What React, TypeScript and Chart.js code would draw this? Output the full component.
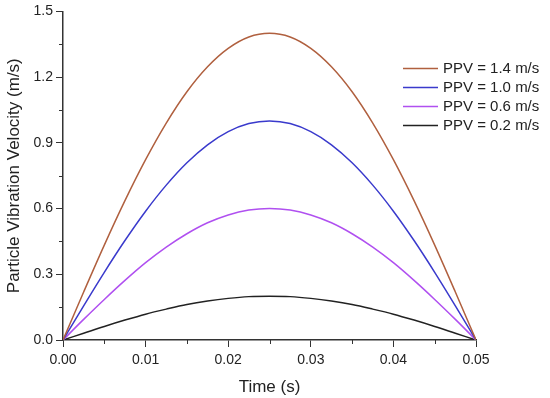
import React, { useEffect, useRef } from "react";
import { Chart, registerables } from "chart.js";

Chart.register(...registerables);

const times = [
  0, 0.0025, 0.005, 0.0075, 0.01, 0.0125, 0.015, 0.0175, 0.02, 0.0225, 0.025,
  0.0275, 0.03, 0.0325, 0.035, 0.0375, 0.04, 0.0425, 0.045, 0.0475, 0.05,
];
const ppv14 = [0, 0.219, 0.433, 0.636, 0.823, 0.99, 1.133, 1.247, 1.331, 1.383, 1.4, 1.383, 1.331, 1.247, 1.133, 0.99, 0.823, 0.636, 0.433, 0.219, 0];
const ppv10 = [0, 0.156, 0.309, 0.454, 0.588, 0.707, 0.809, 0.891, 0.951, 0.988, 1.0, 0.988, 0.951, 0.891, 0.809, 0.707, 0.588, 0.454, 0.309, 0.156, 0];
const ppv06 = [0, 0.094, 0.185, 0.272, 0.353, 0.424, 0.485, 0.535, 0.571, 0.593, 0.6, 0.593, 0.571, 0.535, 0.485, 0.424, 0.353, 0.272, 0.185, 0.094, 0];
const ppv02 = [0, 0.031, 0.062, 0.091, 0.118, 0.141, 0.162, 0.178, 0.19, 0.198, 0.2, 0.198, 0.19, 0.178, 0.162, 0.141, 0.118, 0.091, 0.062, 0.031, 0];

const seriesLabels = ["PPV = 1.4 m/s", "PPV = 1.0 m/s", "PPV = 0.6 m/s", "PPV = 0.2 m/s"];
const seriesValues = [ppv14, ppv10, ppv06, ppv02];
const seriesColors = ["#b0603f", "#3a3acc", "#b050f0", "#222222"];

const xTicks = [0, 0.01, 0.02, 0.03, 0.04, 0.05];
const yTicks = [0, 0.3, 0.6, 0.9, 1.2, 1.5];

const FONT = "'Liberation Sans', Arial, sans-serif";
const AXIS_COLOR = "#333333";

const minorTicksPlugin = {
  id: "minorTicks",
  afterDraw(chart: any) {
    const ctx = chart.ctx;
    const xs = chart.scales.x;
    const ys = chart.scales.y;
    ctx.save();
    ctx.strokeStyle = AXIS_COLOR;
    ctx.lineWidth = 1;
    ctx.beginPath();
    for (let i = 0; i < xTicks.length - 1; i++) {
      const v = (xTicks[i] + xTicks[i + 1]) / 2;
      const px = Math.round(xs.getPixelForValue(v)) + 0.5;
      ctx.moveTo(px, ys.bottom);
      ctx.lineTo(px, ys.bottom + 4);
    }
    for (let i = 0; i < yTicks.length - 1; i++) {
      const v = (yTicks[i] + yTicks[i + 1]) / 2;
      const py = Math.round(ys.getPixelForValue(v)) + 0.5;
      ctx.moveTo(xs.left, py);
      ctx.lineTo(xs.left - 4, py);
    }
    ctx.stroke();
    ctx.restore();
  },
};

const legendPlugin = {
  id: "customLegend",
  afterDraw(chart: any) {
    const ctx = chart.ctx;
    ctx.save();
    ctx.font = `15px ${FONT}`;
    ctx.textBaseline = "middle";
    ctx.textAlign = "left";
    chart.data.datasets.forEach((ds: any, i: number) => {
      const y = 68 + i * 19;
      ctx.strokeStyle = ds.borderColor;
      ctx.lineWidth = 1.5;
      ctx.beginPath();
      ctx.moveTo(403, y + 0.5);
      ctx.lineTo(438, y + 0.5);
      ctx.stroke();
      ctx.fillStyle = "#222";
      ctx.fillText(ds.label, 443, y + 1);
    });
    ctx.restore();
  },
};

export default function App() {
  const ref = useRef<HTMLCanvasElement | null>(null);
  useEffect(() => {
    document.body.style.margin = "0";
    if (!ref.current) return;
    const chart = new Chart(ref.current, {
      type: "line",
      data: {
        datasets: seriesLabels.map((label, i) => ({
          label,
          data: times.map((t, k) => ({ x: t, y: seriesValues[i][k] })),
          borderColor: seriesColors[i],
          backgroundColor: seriesColors[i],
          borderWidth: 1.5,
          pointRadius: 0,
          cubicInterpolationMode: "monotone",
          fill: false,
        })),
      },
      options: {
        responsive: false,
        animation: false,
        maintainAspectRatio: false,
        layout: { padding: { top: 10, right: 74, left: 0, bottom: 0 } },
        plugins: { legend: { display: false }, tooltip: { enabled: false } },
        scales: {
          x: {
            type: "linear",
            min: 0,
            max: 0.05,
            afterFit: (s: any) => { s.height = 58; },
            afterBuildTicks: (s: any) => { s.ticks = xTicks.map((v) => ({ value: v })); },
            border: { color: AXIS_COLOR, width: 1.5 },
            grid: { drawOnChartArea: false, tickLength: 7, color: AXIS_COLOR, tickColor: AXIS_COLOR },
            ticks: {
              color: "#222",
              font: { family: FONT, size: 14 },
              padding: 5,
              maxRotation: 0,
              callback: (v: any) => Number(v).toFixed(2),
            },
            title: {
              display: true,
              text: "Time (s)",
              color: "#222",
              font: { family: FONT, size: 17 },
              padding: { top: 3, bottom: 0 },
            },
          },
          y: {
            type: "linear",
            min: 0,
            max: 1.5,
            afterFit: (s: any) => { s.width = 63; },
            afterBuildTicks: (s: any) => { s.ticks = yTicks.map((v) => ({ value: v })); },
            border: { color: AXIS_COLOR, width: 1.5 },
            grid: { drawOnChartArea: false, tickLength: 7, color: AXIS_COLOR, tickColor: AXIS_COLOR },
            ticks: {
              color: "#222",
              font: { family: FONT, size: 14 },
              padding: 3,
              callback: (v: any) => Number(v).toFixed(1),
            },
            title: {
              display: true,
              text: "Particle Vibration Velocity (m/s)",
              color: "#222",
              font: { family: FONT, size: 17 },
              padding: { top: 4, bottom: 4 },
            },
          },
        },
      },
      plugins: [minorTicksPlugin, legendPlugin],
    } as any);
    return () => chart.destroy();
  }, []);
  return (
    <div style={{ width: 550, height: 398 }}>
      <canvas ref={ref} width={550} height={398} style={{ display: "block" }} />
    </div>
  );
}
